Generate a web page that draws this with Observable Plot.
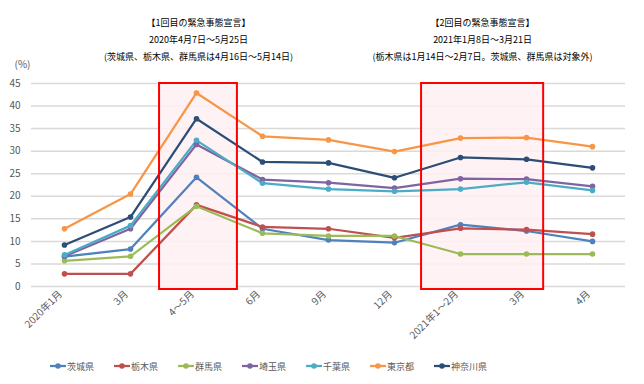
<!DOCTYPE html>
<html>
<head>
<meta charset="utf-8">
<script src="https://cdn.jsdelivr.net/npm/d3@7"></script>
<script src="https://cdn.jsdelivr.net/npm/@observablehq/plot@0.6"></script>
<style>
  body { margin: 0; background: #fff; font-family: "Noto Sans CJK JP", sans-serif; }
  #legend { display: flex; height: 28px; align-items: center; padding-left: 50px; font-size: 9px; color: #595959; }
  #legend .item { width: 64px; display: flex; align-items: center; }
  #legend svg { margin-right: 1px; }
</style>
</head>
<body>
<div id="chart"></div>
<div id="legend"></div>
<script>
const categories = ["2020年1月", "3月", "4～5月", "6月", "9月", "12月", "2021年1～2月", "3月", "4月"];
const prefectures = ["茨城県", "栃木県", "群馬県", "埼玉県", "千葉県", "東京都", "神奈川県"];
const colors = ["#4F81BD", "#C0504D", "#9BBB59", "#8064A2", "#4BACC6", "#F79646", "#2C4D75"];

const ibaraki  = [6.6, 8.3, 24.2, 12.8, 10.3, 9.7, 13.7, 12.3, 10.0];
const tochigi  = [2.8, 2.8, 18.1, 13.2, 12.8, 10.8, 12.9, 12.6, 11.6];
const gunma    = [5.7, 6.7, 17.8, 11.8, 11.2, 11.2, 7.2, 7.2, 7.2];
const saitama  = [6.7, 12.8, 31.5, 23.7, 23.0, 21.8, 23.9, 23.8, 22.2];
const chiba    = [7.0, 13.5, 32.4, 22.9, 21.6, 21.1, 21.6, 23.1, 21.3];
const tokyo    = [12.8, 20.5, 42.9, 33.3, 32.5, 29.9, 32.9, 33.0, 31.0];
const kanagawa = [9.2, 15.4, 37.2, 27.6, 27.4, 24.1, 28.6, 28.2, 26.3];

const yTicks = [0, 5, 10, 15, 20, 25, 30, 35, 40, 45];

// emergency declaration periods (span in category index units) and their notes
const periodStart = [1.44, 5.41];
const periodEnd = [2.62, 7.26];
const periodNotes = [
  ["【1回目の緊急事態宣言】", "2020年4月7日～5月25日", "(茨城県、栃木県、群馬県は4月16日～5月14日)"],
  ["【2回目の緊急事態宣言】", "2021年1月8日～3月21日", "(栃木県は1月14日～2月7日。茨城県、群馬県は対象外)"]
];

const seriesValues = [ibaraki, tochigi, gunma, saitama, chiba, tokyo, kanagawa];
const data = [];
prefectures.forEach((p, s) => {
  seriesValues[s].forEach((v, i) => data.push({pref: p, idx: i, value: v}));
});
const periods = periodStart.map((s, k) => ({x1: s, x2: periodEnd[k], mid: (s + periodEnd[k]) / 2}));
const notes = [];
periodNotes.forEach((lines, k) => lines.forEach((t, j) => notes.push({x: periods[k].mid, line: j, text: t})));

const font = "Noto Sans CJK JP, sans-serif";
const noteMark = (line, dy) => Plot.text(notes.filter(d => d.line === line), {
  x: "x", frameAnchor: "top", text: "text", fontSize: 9, fill: "#000", dy
});

const chart = Plot.plot({
  width: 644,
  height: 352,
  marginTop: 83,
  marginLeft: 31,
  marginRight: 19,
  marginBottom: 66,
  style: {fontFamily: font, fontSize: "10px", color: "#595959", background: "#fff"},
  x: {type: "linear", domain: [-0.5, categories.length - 0.5]},
  y: {domain: [0, 45]},
  color: {domain: prefectures, range: colors},
  marks: [
    Plot.gridY(yTicks, {stroke: "#d9d9d9", strokeOpacity: 1, strokeWidth: 1.5}),
    Plot.rect(periods, {x1: "x1", x2: "x2", y1: 0, y2: 45, insetBottom: -3, fill: "#fff0f3", fillOpacity: 0.85}),
    Plot.axisY(yTicks, {tickSize: 0, tickPadding: 11, label: null, fontSize: 10, fill: "#595959"}),
    Plot.axisX(d3.range(categories.length), {
      tickSize: 0, tickPadding: 6, tickRotate: -45, label: null, fontSize: 10, fill: "#595959", dx: -4,
      tickFormat: (i) => categories[i]
    }),
    Plot.line(data, {x: "idx", y: "value", z: "pref", stroke: "pref", strokeWidth: 2.25}),
    Plot.dot(data, {x: "idx", y: "value", fill: "pref", r: 2.8}),
    Plot.rect(periods, {x1: "x1", x2: "x2", y1: 0, y2: 45, insetBottom: -3, fill: "none", stroke: "#ff0000", strokeWidth: 2}),
    noteMark(0, -64),
    noteMark(1, -47),
    noteMark(2, -30),
    Plot.text(["(%)"], {frameAnchor: "top-left", text: (d) => d, dx: -17, dy: -23, fontSize: 10, fill: "#595959"})
  ]
});
document.getElementById("chart").appendChild(chart);

const legend = document.getElementById("legend");
prefectures.forEach((p, s) => {
  const item = document.createElement("div");
  item.className = "item";
  item.innerHTML = `<svg width="16" height="8"><line x1="0" y1="4" x2="16" y2="4" stroke="${colors[s]}" stroke-width="2.25"/><circle cx="8" cy="4" r="2.8" fill="${colors[s]}"/></svg><span>${p}</span>`;
  legend.appendChild(item);
});
</script>
</body>
</html>
